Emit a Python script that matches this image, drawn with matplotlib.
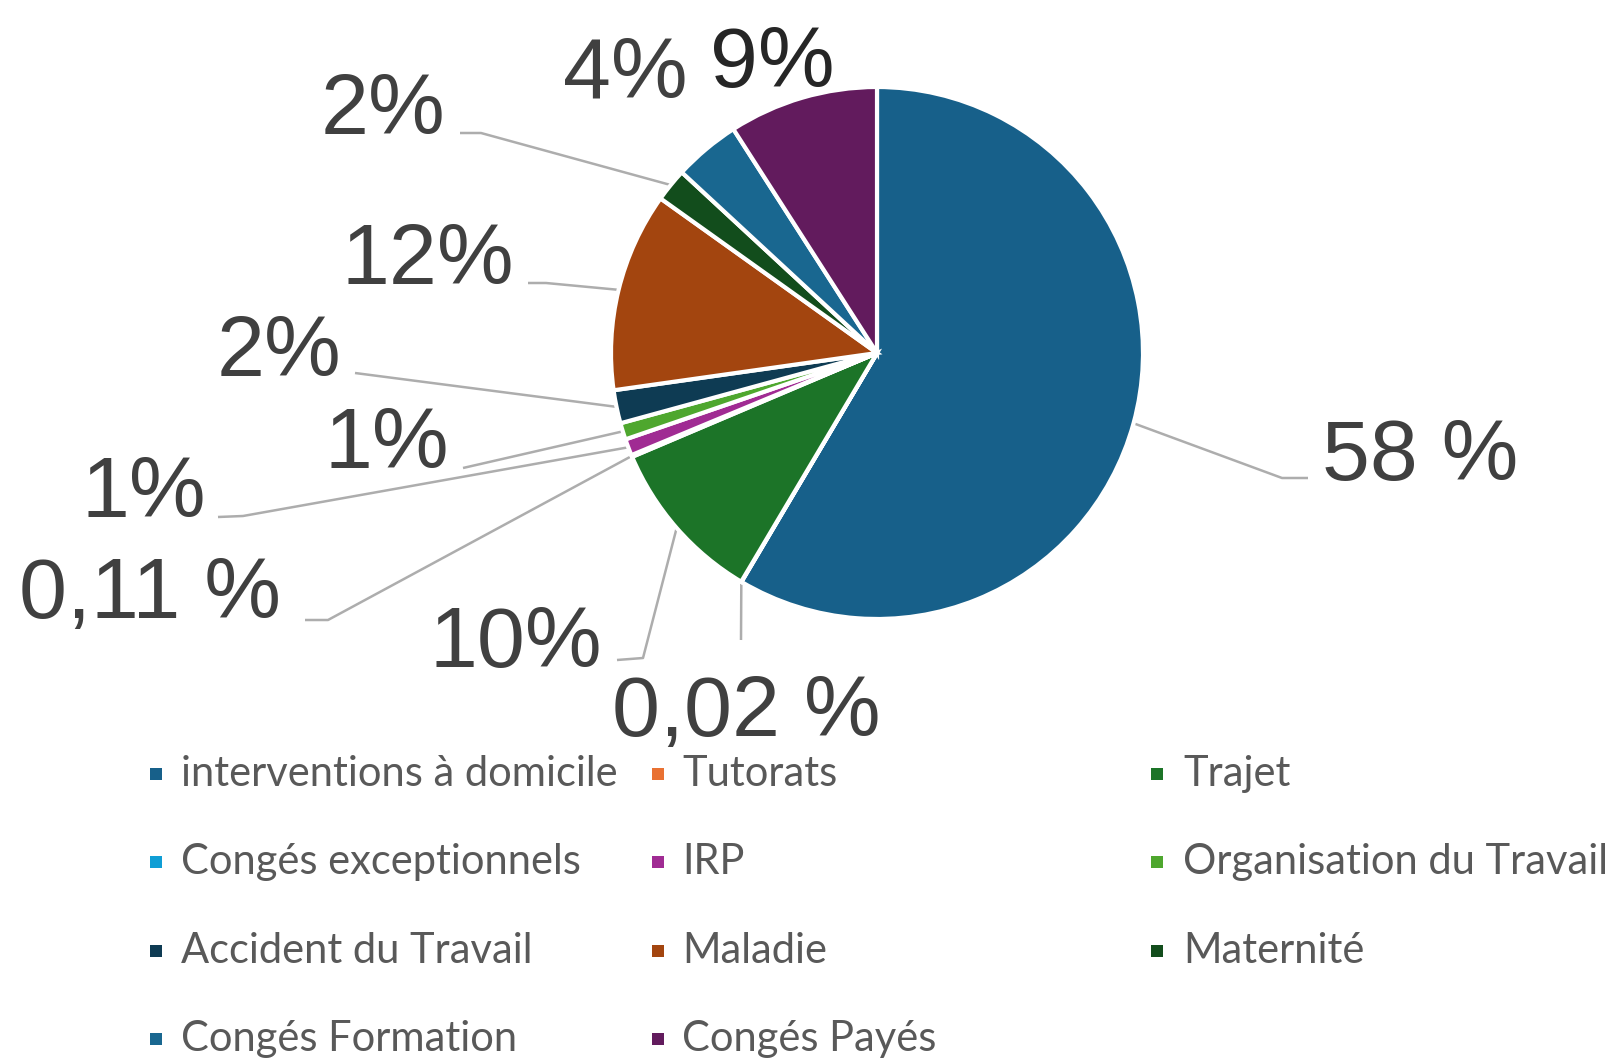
import numpy as np
import matplotlib
matplotlib.use("Agg")
import matplotlib.pyplot as plt

# ── data ──────────────────────────────────────────────────────────────────────
categories = [
    "interventions à domicile", "Tutorats", "Trajet",
    "Congés exceptionnels", "IRP", "Organisation du Travail",
    "Accident du Travail", "Maladie", "Maternité",
    "Congés Formation", "Congés Payés",
]
values = [58, 0.02, 10, 0.11, 1, 1, 2, 12, 2, 4, 9]
pct_labels = ["58 %", "0,02 %", "10%", "0,11 %", "1%", "1%", "2%", "12%", "2%", "4%", "9%"]

colors = [
    "#17608A", "#E97132", "#1C7428",
    "#0F9ED5", "#A02B93", "#4EA72E",
    "#0E3B53", "#A3450F", "#124D1C",
    "#196790", "#621B5D",
]

# ── layout (pixels, origin top-left) ──────────────────────────────────────────
W, H = 1613, 1061
CX, CY, R = 877, 353, 266

# label anchor: (centre x, baseline y)
label_pos = [
    (1420, 480), (746, 736), (516, 667), (150, 618), (144, 517), (387, 468),
    (279, 376), (428, 284), (383, 134), (625, 98), (772, 87),
]
label_col = ["#404040"] * 11
label_col[10] = "#262626"

# leader line points after the wedge edge (None = no leader)
leaders = [
    [(1282, 478), (1308, 478)],
    [(741, 640)],
    [(643, 658), (617, 660)],
    [(328, 620), (305, 620)],
    [(243, 516), (218, 517)],
    [(463, 468)],
    [(355, 373)],
    [(546, 283), (528, 283)],
    [(481, 133), (460, 133)],
    None,
    None,
]

fig = plt.figure(figsize=(W / 100, H / 100), dpi=100)

# pie axes placed so the pie has centre (CX, CY) and radius R in pixels
ax = fig.add_axes([(CX - R) / W, (H - CY - R) / H, 2 * R / W, 2 * R / H])
wedges, _ = ax.pie(
    values, colors=colors, startangle=90, counterclock=False, radius=1,
    wedgeprops=dict(edgecolor="white", linewidth=3),
)
ax.set_xlim(-1, 1)
ax.set_ylim(-1, 1)
ax.axis("off")

# overlay axes in pixel coordinates for labels, leaders and legend
lax = fig.add_axes([0, 0, 1, 1], zorder=-1)
lax.set_xlim(0, W)
lax.set_ylim(H, 0)
lax.axis("off")

for i, w in enumerate(wedges):
    mid = np.deg2rad((w.theta1 + w.theta2) / 2)
    sx, sy = CX + R * np.cos(mid), CY - R * np.sin(mid)
    if leaders[i] is not None:
        pts = [(sx, sy)] + leaders[i]
        lax.plot([p[0] for p in pts], [p[1] for p in pts], color="#ADADAD", lw=1.8,
                 solid_capstyle="butt")
    lx, ly = label_pos[i]
    lax.text(lx, ly, pct_labels[i], ha="center", va="baseline", fontsize=62,
             family="Liberation Sans", color=label_col[i])

# legend, row-major in 3 columns
marker_x = [156, 658, 1157]
text_x = [181, 682, 1183]
row_y = [774, 862, 951, 1039]
for i, name in enumerate(categories):
    r, c = divmod(i, 3)
    lax.scatter(marker_x[c], row_y[r], marker="s", s=75, color=colors[i], linewidths=0)
    lax.text(text_x[c], row_y[r], name, ha="left", va="center", fontsize=30,
             family="Lato", color="#595959")

fig.savefig("out.png", dpi=100)
